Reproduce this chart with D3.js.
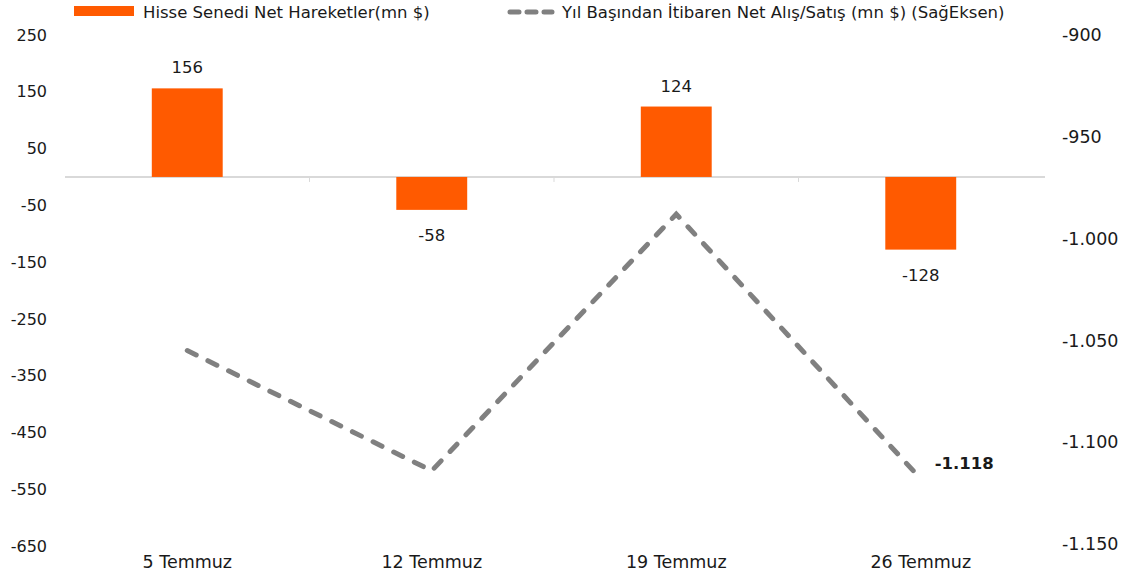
<!DOCTYPE html>
<html>
<head>
<meta charset="UTF-8">
<title>Hisse Senedi Net Hareketler</title>
<script src="https://cdn.jsdelivr.net/npm/d3@7"></script>
<style>
  body { margin: 0; background: #fff; }
</style>
</head>
<body>
<script>
// veriler
var kategoriler = ["5 Temmuz", "12 Temmuz", "19 Temmuz", "26 Temmuz"];
var netHareket = [156, -58, 124, -128];          // sol eksen, mn $
var yilBasindan = [-1055, -1114, -988, -1118];   // sağ eksen, mn $
var solTicks = [250, 150, 50, -50, -150, -250, -350, -450, -550, -650];
var sagTicks = [-900, -950, -1000, -1050, -1100, -1150];

var W = 1130, H = 584;
var FONT = "DejaVu Sans";
var svg = d3.select("body").append("svg").attr("width", W).attr("height", H);

var loc = d3.formatLocale({decimal: ",", thousands: ".", grouping: [3], currency: ["", ""], minus: "-"});
var fmt = loc.format(",d");

var x = d3.scaleBand().domain(kategoriler).range([65, 1043]).paddingInner(0.71).paddingOuter(0.355);
var yL = d3.scaleLinear().domain([-650, 250]).range([546, 35]);
var yR = d3.scaleLinear().domain([-1150, -900]).range([544, 35]);

function stilText(g, size) {
  g.select(".domain").remove();
  g.selectAll("text")
    .attr("font-family", FONT)
    .attr("font-size", size)
    .attr("fill", "#1a1a1a");
}

// sol eksen
var gL = svg.append("g").attr("transform", "translate(47,0)")
  .call(d3.axisLeft(yL).tickValues(solTicks).tickSize(0).tickPadding(0).tickFormat(fmt));
stilText(gL, 16);

// sag eksen
var gR = svg.append("g").attr("transform", "translate(1062,0)")
  .call(d3.axisRight(yR).tickValues(sagTicks).tickSize(0).tickPadding(0).tickFormat(fmt));
stilText(gR, 17.5);

// kategori etiketleri
var gX = svg.append("g").attr("transform", "translate(0,556)")
  .call(d3.axisBottom(x).tickSize(0).tickPadding(0));
stilText(gX, 17.5);

// sifir cizgisi
var y0 = yL(0);
svg.append("line").attr("x1", 65).attr("x2", 1045).attr("y1", y0).attr("y2", y0)
  .attr("stroke", "#d9d9d9").attr("stroke-width", 2);
svg.selectAll("line.tk").data(kategoriler.slice(1)).enter().append("line")
  .attr("class", "tk")
  .attr("x1", function(d){ return x(d) - (x.step() - x.bandwidth()) / 2; })
  .attr("x2", function(d){ return x(d) - (x.step() - x.bandwidth()) / 2; })
  .attr("y1", y0).attr("y2", y0 + 5)
  .attr("stroke", "#d9d9d9").attr("stroke-width", 1);

// barlar
svg.selectAll("rect.bar").data(netHareket).enter().append("rect")
  .attr("class", "bar")
  .attr("x", function(d, i){ return x(kategoriler[i]); })
  .attr("width", x.bandwidth())
  .attr("y", function(d){ return d >= 0 ? yL(d) : y0; })
  .attr("height", function(d){ return Math.abs(yL(d) - y0); })
  .attr("fill", "#ff5a00");

svg.selectAll("text.deger").data(netHareket).enter().append("text")
  .attr("class", "deger")
  .attr("x", function(d, i){ return x(kategoriler[i]) + x.bandwidth() / 2; })
  .attr("y", function(d){ return d >= 0 ? yL(d) - 15 : yL(d) + 31; })
  .attr("text-anchor", "middle")
  .attr("font-family", FONT)
  .attr("font-size", 16.5)
  .attr("fill", "#1a1a1a")
  .text(function(d){ return fmt(d); });

// cizgi
var line = d3.line()
  .x(function(d, i){ return x(kategoriler[i]) + x.bandwidth() / 2; })
  .y(function(d){ return yR(d); });
svg.append("path").datum(yilBasindan)
  .attr("d", line)
  .attr("fill", "none")
  .attr("stroke", "#808080")
  .attr("stroke-width", 5)
  .attr("stroke-dasharray", "10,13")
  .attr("stroke-linecap", "round");

var son = yilBasindan.length - 1;
svg.append("text")
  .attr("x", x(kategoriler[son]) + x.bandwidth() / 2 + 14)
  .attr("y", yR(yilBasindan[son]) - 10)
  .attr("font-family", FONT)
  .attr("font-size", 16.5)
  .attr("font-weight", "bold")
  .attr("fill", "#1a1a1a")
  .text(fmt(yilBasindan[son]));

// legend
var leg = svg.append("g");
leg.append("rect").attr("x", 74).attr("y", 6).attr("width", 60).attr("height", 10).attr("fill", "#ff5a00");
leg.append("text").attr("x", 143).attr("y", 18).attr("font-family", FONT).attr("font-size", 16.5)
  .attr("fill", "#1a1a1a").text("Hisse Senedi Net Hareketler(mn $)");
leg.append("line").attr("x1", 510).attr("x2", 552).attr("y1", 12).attr("y2", 12)
  .attr("stroke", "#808080").attr("stroke-width", 5).attr("stroke-dasharray", "9,8").attr("stroke-linecap", "round");
leg.append("text").attr("x", 562).attr("y", 18).attr("font-family", FONT).attr("font-size", 16.5)
  .attr("fill", "#1a1a1a").text("Yıl Başından İtibaren Net Alış/Satış (mn $) (SağEksen)");
</script>
</body>
</html>
